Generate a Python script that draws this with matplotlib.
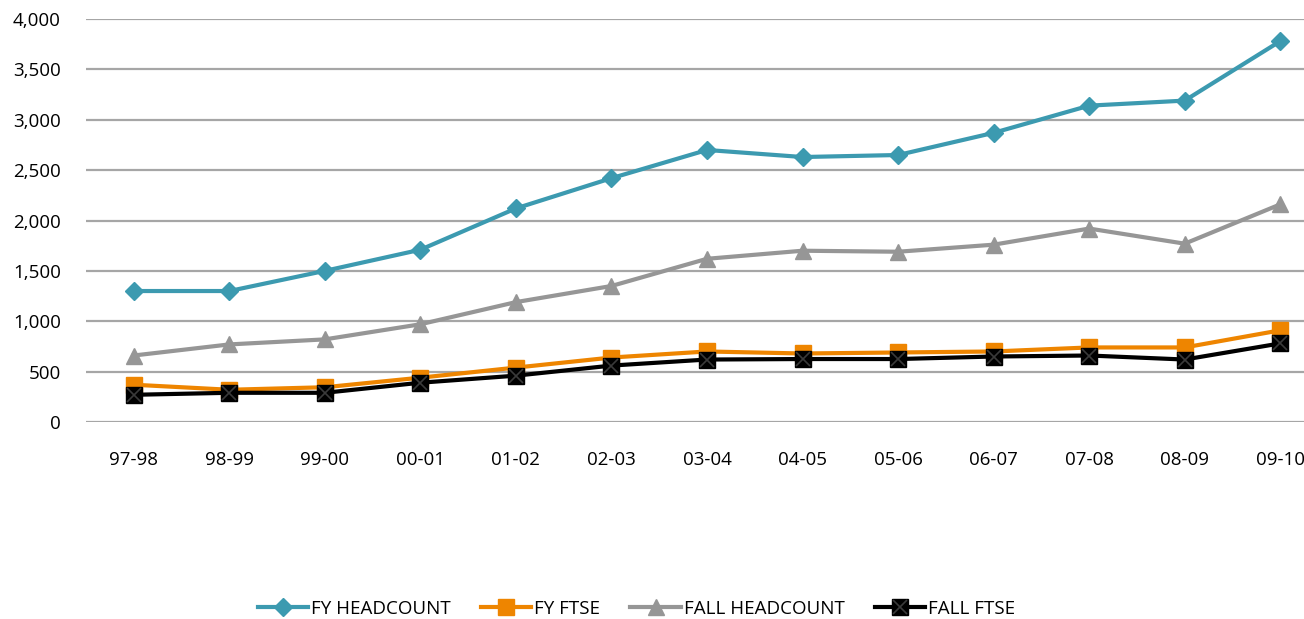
import matplotlib
matplotlib.use("Agg")
import matplotlib.pyplot as plt
from matplotlib.legend_handler import HandlerTuple

categories = ["97-98", "98-99", "99-00", "00-01", "01-02", "02-03", "03-04",
              "04-05", "05-06", "06-07", "07-08", "08-09", "09-10"]
fy_headcount = [1300, 1300, 1500, 1710, 2120, 2420, 2700, 2630, 2650, 2870, 3140, 3190, 3780]
fy_ftse = [370, 320, 345, 440, 540, 640, 700, 680, 690, 700, 740, 740, 910]
fall_headcount = [660, 770, 820, 970, 1190, 1350, 1620, 1700, 1690, 1760, 1920, 1770, 2160]
fall_ftse = [270, 290, 290, 390, 460, 560, 620, 625, 625, 650, 660, 620, 780]
yticks = [0, 500, 1000, 1500, 2000, 2500, 3000, 3500, 4000]

plt.rcParams['font.family'] = ['Open Sans', 'DejaVu Sans']

W, H = 1304, 619
fig = plt.figure(figsize=(W / 100, H / 100), dpi=100)
left, right, top, bottom = 86, 1328, 19, 422
ax = fig.add_axes([left / W, (H - bottom) / H, (right - left) / W, (bottom - top) / H])

x = list(range(len(categories)))
teal = "#3C9AB0"
orange = "#EE8500"
gray = "#969696"

l1, = ax.plot(x, fy_headcount, color=teal, lw=3, marker='D', ms=9.5, mec=teal, label="FY HEADCOUNT", clip_on=False, zorder=3)
l2, = ax.plot(x, fy_ftse, color=orange, lw=3, marker='s', ms=11, mec=orange, label="FY FTSE", clip_on=False, zorder=3)
l3, = ax.plot(x, fall_headcount, color=gray, lw=3, marker='^', ms=12, mec=gray, label="FALL HEADCOUNT", clip_on=False, zorder=3)
l4, = ax.plot(x, fall_ftse, color="black", lw=3, marker='s', ms=11, mec="black", label="FALL FTSE", clip_on=False, zorder=4)
l4x, = ax.plot(x, fall_ftse, ls='none', marker='x', ms=10, mew=1.2, color="#3a3a3a", clip_on=False, zorder=5)

ax.set_xlim(-0.5, len(categories) - 0.5)
ax.set_ylim(0, 4000)
ax.set_yticks(yticks)
ax.set_yticklabels([f"{v:,}" for v in yticks])
ax.set_xticks(x)
ax.set_xticklabels(categories)
ax.grid(axis='y', color="#A6A6A6", lw=1.6)
ax.set_axisbelow(True)
for s in ax.spines.values():
    s.set_visible(False)
ax.tick_params(axis='both', length=0, labelsize=13.5, colors="#000000")
ax.tick_params(axis='y', pad=18)
ax.tick_params(axis='x', pad=21)

fig.legend([l1, l2, l3, (l4, l4x)], ["FY HEADCOUNT", "FY FTSE", "FALL HEADCOUNT", "FALL FTSE"],
           handler_map={tuple: HandlerTuple(ndivide=1)},
           loc='center', bbox_to_anchor=(0.488, (H - 609) / H), ncol=4, frameon=False,
           fontsize=13.5, handlelength=2.7, handletextpad=0.15, columnspacing=1.6, numpoints=1)

fig.savefig("out.png", dpi=100)
